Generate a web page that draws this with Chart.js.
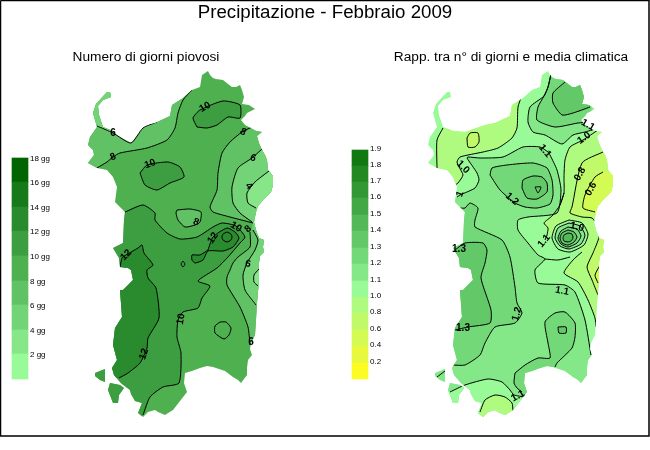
<!DOCTYPE html>
<html>
<head>
<meta charset="utf-8">
<title>Precipitazione - Febbraio 2009</title>
<script src="https://cdn.jsdelivr.net/npm/chart.js@4"></script>
<style>
  html, body { margin: 0; padding: 0; background: #fff; }
  canvas { display: block; }
</style>
</head>
<body>
<canvas id="map" width="650" height="450"></canvas>
<script>
// colour scales
const daysLegendEdges = [158, 182, 207, 231, 256, 281, 305, 330, 354, 379];
const daysLegendColors = ['#006400', '#167a1a', '#2a8a2e', '#3c9e40', '#4fb050', '#60c264', '#72d476', '#86e688', '#98fb98'];
const daysLegendLabels = ['18 gg', '16 gg', '14 gg', '12 gg', '10 gg', '8 gg', '6 gg', '4 gg', '2 gg'];
const ratioLegendEdges = [150, 166, 182, 198, 215, 231, 248, 264, 281, 297, 313, 330, 346, 363, 379];
const ratioLegendColors = ['#127812', '#228822', '#329836', '#42a846', '#52b858', '#62c868', '#72d878', '#84e888', '#98fb98', '#aefb80', '#c0fa68', '#d4fa54', '#e8f83c', '#fcfc24'];
const ratioLegendLabels = ['1.9', '1.8', '1.7', '1.6', '1.5', '1.4', '1.3', '1.2', '1.1', '1.0', '0.8', '0.6', '0.4', '0.2'];

// coast, read on the left map; the right map is the same shape moved by 340
const coast = [[208,71],[210,75],[213,78],[216,79],[223,80],[228,84],[232,87],[236,87],[240,85],[242,90],[244,97],[242,104],[249,105],[255,109],[247,113],[245,116],[241,120],[245,125],[249,127],[256,131],[262,132],[257,136],[259,143],[262,150],[265,155],[267,160],[268,170],[273,176],[273,185],[271,192],[263,200],[258,206],[256,212],[254,222],[256,230],[259,238],[264,240],[263,247],[264,252],[260,256],[259,263],[259,280],[257,303],[256,320],[255,335],[251,343],[250,349],[252,355],[248,360],[247,368],[247,375],[241,383],[238,380],[233,377],[225,371],[213,367],[207,366],[200,368],[192,371],[185,373],[184,383],[187,392],[180,401],[173,410],[165,415],[158,412],[155,410],[148,412],[143,417],[138,413],[142,403],[135,401],[131,394],[130,390],[122,384],[120,382],[114,375],[112,368],[117,360],[113,345],[115,328],[122,317],[120,290],[123,290],[133,280],[131,270],[128,268],[120,267],[119,258],[113,248],[123,243],[124,220],[125,212],[115,202],[117,187],[113,177],[107,170],[97,168],[88,163],[94,155],[93,150],[88,145],[90,137],[97,127],[93,113],[96,104],[107,92],[110,92],[111,97],[103,100],[98,106],[99,115],[103,127],[113,131],[125,132],[145,125],[155,123],[170,116],[172,105],[183,98],[192,90],[200,87],[202,75],[208,71]];
const santAntioco = [[110,383],[120,385],[124,388],[119,395],[118,403],[113,403],[108,390],[110,383]];
const sanPietro = [[95,373],[105,369],[105,382],[100,380],[95,376],[95,373]];
const gulfNotch = [[113,133],[131,143],[143,128],[157,122],[150,118],[125,125],[113,133]];

// left map: number of rainy days
const days6West = [[97,126],[113,133],[131,143],[143,128],[157,122]];
const days8West = [[97,168],[107,162],[113,157],[120,153],[147,148],[167,140],[175,128],[178,113],[183,100],[192,90]];
const days8East = [[252,127],[242,132],[230,142],[222,153],[218,173],[217,190],[210,207],[213,212],[230,217],[253,223]];
const days8South = [[250,232],[250,247],[238,257],[233,263],[230,270],[227,277],[227,285],[240,307],[248,327],[250,345]];
const days6East = [[262,149],[252,158],[238,168],[232,187],[233,203],[240,213],[252,222]];
const days6South = [[253,230],[258,240],[255,250],[247,263],[243,275],[245,290],[256,305]];
const days4East = [[269,171],[255,182],[247,193],[248,203],[256,208]];
const days4South = [[259,269],[254,275],[254,282],[258,286]];
const days10Main = [[123,213],[143,205],[155,213],[155,220],[167,233],[180,239],[197,237],[213,227],[222,223],[236,226],[245,237],[240,243],[228,257],[217,268],[198,281],[210,286],[202,298],[198,308],[183,312],[178,320],[177,337],[181,353],[179,383],[163,387],[150,397],[143,415]];
const days10North = [[197,127],[193,118],[200,110],[223,101],[240,105],[240,118],[228,117],[217,125],[207,128],[197,127]];
const days10Center = [[140,173],[147,165],[168,162],[180,167],[184,177],[170,183],[157,190],[145,185],[140,173]];
const days8Oval = [[177,210],[190,209],[201,212],[200,222],[195,225],[185,227],[178,220],[176,213],[177,210]];
const daysSouthOval = [[220,322],[226,322],[231,328],[229,335],[224,339],[215,333],[215,326],[220,322]];
const days12West = [[119,273],[122,258],[126,255],[138,248],[142,245],[144,253],[153,265],[147,270],[148,278],[156,288],[159,318],[148,338],[147,348],[140,363],[128,373],[119,378]];
const days12Blob = [[208,250],[213,237],[227,228],[235,232],[239,238],[233,247],[223,251],[208,251],[203,260],[195,263],[192,260],[192,255],[200,255],[208,250]];
const days14Ring = [[227,232],[231,234],[232,237],[231,240],[227,242],[223,240],[222,237],[223,234],[227,232]];
const daysDiamond = [[183,261],[185,264],[183,267],[181,264],[183,261]];

// right map: ratio to the climate mean
const ratioWest = [[443,128],[437,140],[437,168]];
const ratio10North = [[522,95],[518,107],[517,128],[512,138],[498,148],[483,152],[460,157],[457,162],[459,167],[463,175],[458,183],[455,185]];
const ratio09Spot = [[467,138],[470,133],[478,133],[479,142],[475,147],[468,147],[467,138]];
const ratio11West = [[457,197],[460,195],[475,188],[479,180],[477,173],[467,158],[468,157],[480,158],[503,157],[523,147],[540,147],[548,152],[550,155],[557,170],[561,190],[557,213],[528,217],[518,220],[518,230],[528,243],[538,255],[545,259],[535,270],[538,283],[565,285],[575,292],[585,320],[591,355]];
const ratio12Oval = [[490,175],[492,168],[507,165],[533,163],[547,168],[552,180],[553,195],[550,204],[537,208],[525,207],[515,203],[500,190],[490,175]];
const ratio13Ring = [[522,188],[523,180],[533,176],[542,177],[547,183],[547,192],[537,199],[527,198],[522,188]];
const ratioTriangle = [[535,187],[541,187],[538,193],[535,187]];
const ratio11North = [[551,74],[548,87],[544,96],[530,107],[528,122],[533,132],[545,135],[562,144],[573,135],[585,132],[592,130]];
const ratio12North = [[551,74],[548,87],[544,96],[538,107],[537,120],[555,127],[578,123],[590,122]];
const ratio13North = [[565,82],[553,93],[553,103],[562,115],[573,113],[590,107]];
const ratio10East = [[598,130],[583,140],[570,147],[565,160],[564,177],[564,193],[560,205],[552,216],[544,223],[550,235],[565,245],[582,252],[573,260],[564,273],[578,282],[588,300],[595,318],[596,327]];
const ratioCurl = [[564,193],[560,205],[552,216],[544,223],[548,228],[547,235],[545,240]];
const ratio08East = [[603,152],[582,163],[572,207],[570,213],[582,217],[592,218],[597,225],[599,237],[593,253],[587,267],[592,280],[598,295]];
const ratio06East = [[603,172],[595,177],[585,195],[583,208],[595,212]];
const ratio06South = [[602,262],[595,275],[598,283]];
const ratioRing1 = [[569,220],[582,223],[588,234],[584,245],[570,252],[558,249],[552,238],[556,226],[569,220]];
const ratioRing2 = [[569,223],[580,226],[585,235],[581,244],[569,249],[560,246],[555,238],[558,228],[569,223]];
const ratioRing3 = [[568,227],[577,229],[581,236],[577,243],[568,247],[561,244],[558,238],[561,231],[568,227]];
const ratioRing4 = [[568,230],[574,232],[577,237],[574,242],[568,245],[562,243],[560,238],[562,233],[568,230]];
const ratioRing5 = [[568,233],[572,234],[573,238],[571,241],[568,242],[564,241],[563,238],[564,235],[568,233]];
const ratioBelowRings = [[545,259],[558,260],[570,257]];
const ratio12West = [[460,208],[465,208],[470,203],[478,208],[475,220],[475,227],[502,240],[510,257],[515,287],[517,303],[522,313],[515,323],[495,327],[485,343],[480,355],[465,365],[452,365]];
const ratio13West = [[455,250],[465,243],[483,243],[487,250],[485,263],[481,278],[491,310],[490,323],[468,327],[455,330]];
const ratioSouthZone = [[515,373],[525,365],[538,358],[550,358],[548,343],[545,322],[555,313],[565,312],[575,323],[575,337],[572,348],[557,363],[555,367]];
const ratioSouthEdge = [[515,373],[514,383],[517,388],[522,392]];
const ratioSquare = [[558,327],[566,327],[566,333],[559,333],[558,327]];
const ratio11South = [[450,392],[465,385],[488,379],[502,382],[510,390],[514,395],[525,397]];
const ratio10South = [[480,412],[485,400],[495,395],[505,397],[512,403],[513,411]];
const ratioPietro = [[437,377],[445,371]];

// contour labels: text, x, y, rotation in degrees
const daysContourLabels = [['6',113,133,0],['8',113,157,-20],['10',205,107,-30],['8',243,132,30],['6',253,158,20],['4',249,186,50],['10',150,164,-20],['8',196,222,20],['10',236,227,30],['8',248,229,-40],['12',213,238,-55],['12',126,255,-45],['6',248,264,10],['10',181,319,-80],['12',144,354,-70],['6',251,342,0]];
const ratioContourLabels = [['1.1',588,125,30],['1.0',584,138,-35],['1.1',545,151,50],['1.0',463,167,45],['1',460,194,-70],['1.2',512,199,40],['0.8',580,174,-60],['0.6',591,189,-60],['1.0',577,227,15],['1.1',544,241,-50],['1.3',459,249,0],['1.1',562,291,10],['1.2',517,314,-75],['1.3',463,328,0],['1.1',518,396,-30]];

const datasets = [];

function addArea(points, color, panel) {
    datasets.push({
        data: points.map(p => ({x: p[0], y: p[1]})),
        xAxisID: panel === 'coastRight' ? 'xRight' : 'x',
        clipPanel: panel === 'none' ? null : panel,
        fill: 'shape',
        backgroundColor: color,
        borderWidth: 0,
        borderColor: 'rgba(0,0,0,0)',
        pointRadius: 0,
        tension: panel.startsWith('coast') || panel === 'none' ? 0 : 0.2
    });
}

function addContour(points, panel) {
    datasets.push({
        data: points.map(p => ({x: p[0], y: p[1]})),
        xAxisID: 'x',
        clipPanel: panel,
        fill: false,
        borderColor: '#000',
        borderWidth: 1,
        pointRadius: 0,
        tension: 0.2
    });
}

function addLegend(edges, colors, center) {
    datasets.push({
        type: 'bar',
        data: colors.map((c, i) => ({x: center, y: [edges[i], edges[i + 1]]})),
        xAxisID: 'x',
        backgroundColor: colors,
        borderWidth: 0,
        barThickness: 16,
        grouped: false
    });
}

// left map
[coast, santAntioco, sanPietro].forEach(p => addArea(p, '#4fb050', 'coastLeft'));
addArea(days8West.concat([[192,60],[80,60],[80,168]]), '#60c264', 'left');
addArea([[97,126],[113,133],[113,100],[110,85],[85,85],[80,126]], '#72d476', 'left');
addArea(days8East.concat(days8South, [[290,345],[290,127]]), '#60c264', 'left');
addArea(days6East.concat(days6South, [[290,305],[290,149]]), '#72d476', 'left');
addArea(days4East.concat([[290,208],[290,171]]), '#86e688', 'left');
addArea(days4South.concat([[290,286],[290,269]]), '#86e688', 'left');
addArea(days8Oval, '#60c264', 'left');
addArea(days10Main.concat([[100,430],[85,300],[100,213]]), '#3c9e40', 'left');
addArea(days10North, '#3c9e40', 'left');
addArea(days10Center, '#3c9e40', 'left');
addArea(days12West.concat([[114,378],[108,350],[108,273]]), '#2a8a2e', 'left');
addArea(days12Blob, '#2a8a2e', 'left');
addArea(gulfNotch, '#ffffff', 'none');
[days6West, days8West, days8East, days8South, days6East, days6South, days4East, days4South, days10Main, days10North, days10Center, days8Oval, daysSouthOval, days12West, days12Blob, days14Ring, daysDiamond].forEach(p => addContour(p, 'left'));

// right map
[coast, santAntioco, sanPietro].forEach(p => addArea(p, '#98fb98', 'coastRight'));
addArea(ratio10North.concat([[445,172],[437,168],[437,140],[443,128],[450,110],[515,88]]), '#aefb80', 'right');
addArea(ratio09Spot, '#c0fa68', 'right');
addArea(ratio11North.concat([[592,60]]), '#84e888', 'right');
addArea(ratio12North.concat([[592,60]]), '#72d878', 'right');
addArea(ratio13North.concat([[592,70],[575,70]]), '#62c868', 'right');
addArea(ratio10East.concat([[640,327],[640,130]]), '#aefb80', 'right');
addArea(ratio08East.concat([[640,295],[640,152]]), '#c0fa68', 'right');
addArea(ratio06East.concat([[640,212],[640,172]]), '#d4fa54', 'right');
addArea(ratio06South.concat([[640,283],[640,262]]), '#d4fa54', 'right');
addArea(ratio11West.concat([[596,370],[596,430],[420,430],[420,197]]), '#84e888', 'right');
addArea(ratio12Oval, '#72d878', 'right');
addArea(ratio13Ring, '#62c868', 'right');
addArea(ratio12West.concat([[430,365],[430,208]]), '#72d878', 'right');
addArea(ratio13West.concat([[420,330],[420,250]]), '#62c868', 'right');
addArea(ratioSouthZone.concat([[555,400],[530,420],[522,392]], ratioSouthEdge.slice().reverse()), '#72d878', 'right');
addArea(ratioSquare, '#62c868', 'right');
addArea(ratio11South.concat([[530,430],[440,430],[440,392]]), '#98fb98', 'right');
addArea(ratio10South.concat([[513,430],[470,430]]), '#aefb80', 'right');
addArea(ratioRing1, '#98fb98', 'right');
addArea(ratioRing2, '#84e888', 'right');
addArea(ratioRing3, '#72d878', 'right');
addArea(ratioRing4, '#62c868', 'right');
addArea(ratioRing5, '#52b858', 'right');
[ratioWest, ratio10North, ratio09Spot, ratio11West, ratio12Oval, ratio13Ring, ratioTriangle, ratio11North, ratio12North, ratio13North, ratio08East, ratio06East, ratio06South, ratioRing1, ratioRing2, ratioRing3, ratioRing4, ratioRing5, ratioBelowRings, ratio12West, ratio13West, ratioSouthZone, ratioSouthEdge, ratioSquare, ratio11South, ratio10South, ratioPietro, ratioCurl].forEach(p => addContour(p, 'right'));
addContour(ratio10East.slice(0, 7), 'right');
addContour(ratio10East.slice(11), 'right');

addLegend(daysLegendEdges, daysLegendColors, 20);
addLegend(ratioLegendEdges, ratioLegendColors, 360);

// outer frame
datasets.push({
    data: [{x: 0.5, y: 0.5}, {x: 649, y: 0.5}, {x: 649, y: 436}, {x: 0.5, y: 436}, {x: 0.5, y: 0.5}],
    xAxisID: 'x',
    fill: false,
    borderColor: '#000',
    borderWidth: 1.5,
    pointRadius: 0
});

// later datasets go on top
datasets.forEach((d, i) => { d.order = datasets.length - i; });

function traceLand(ctx, scale, yScale) {
    [coast, santAntioco, sanPietro].forEach(part => {
        part.forEach((p, i) => {
            const px = scale.getPixelForValue(p[0]);
            const py = yScale.getPixelForValue(p[1]);
            if (i === 0) ctx.moveTo(px, py); else ctx.lineTo(px, py);
        });
        ctx.closePath();
    });
}

// contour zones overshoot the sea, so they are cut to the coast
const coastClip = {
    id: 'coastClip',
    beforeDatasetDraw(chart, args) {
        const panel = chart.data.datasets[args.index].clipPanel;
        if (panel !== 'left' && panel !== 'right') return;
        const ctx = chart.ctx;
        ctx.save();
        ctx.beginPath();
        traceLand(ctx, panel === 'left' ? chart.scales.x : chart.scales.xRight, chart.scales.y);
        ctx.clip();
    },
    afterDatasetDraw(chart, args) {
        const panel = chart.data.datasets[args.index].clipPanel;
        if (panel === 'left' || panel === 'right') chart.ctx.restore();
    }
};

const textLayer = {
    id: 'textLayer',
    afterDatasetsDraw(chart) {
        const ctx = chart.ctx;
        const xs = chart.scales.x;
        const ys = chart.scales.y;
        ctx.save();
        ctx.fillStyle = '#000';
        ctx.textBaseline = 'middle';

        ctx.textAlign = 'center';
        ctx.font = '18.7px "Liberation Sans"';
        ctx.fillText('Precipitazione - Febbraio 2009', xs.getPixelForValue(325), ys.getPixelForValue(13));
        ctx.font = '13.7px "Liberation Sans"';
        ctx.fillText('Numero di giorni piovosi', xs.getPixelForValue(146), ys.getPixelForValue(57));
        ctx.fillText('Rapp. tra n\u00b0 di giorni e media climatica', xs.getPixelForValue(511), ys.getPixelForValue(57));

        ctx.textAlign = 'left';
        ctx.font = '8px "Liberation Sans"';
        daysLegendLabels.forEach((t, i) => ctx.fillText(t, xs.getPixelForValue(30), ys.getPixelForValue(daysLegendEdges[i] + 1)));
        ratioLegendLabels.forEach((t, i) => ctx.fillText(t, xs.getPixelForValue(370), ys.getPixelForValue(ratioLegendEdges[i] - 1)));

        ctx.textAlign = 'center';
        ctx.font = 'bold 10px "Liberation Sans"';
        daysContourLabels.concat(ratioContourLabels).forEach(l => {
            ctx.save();
            ctx.translate(xs.getPixelForValue(l[1]), ys.getPixelForValue(l[2]));
            ctx.rotate(l[3] * Math.PI / 180);
            ctx.fillText(l[0], 0, 0);
            ctx.restore();
        });
        ctx.restore();
    }
};

// the filler has to run after the clip is set
const filler = Chart.registry.getPlugin('filler');
Chart.unregister(filler);
Chart.register(coastClip);
Chart.register(filler);

new Chart(document.getElementById('map'), {
    type: 'line',
    data: {datasets},
    plugins: [textLayer],
    options: {
        responsive: false,
        animation: false,
        devicePixelRatio: 1,
        parsing: {xAxisKey: 'x', yAxisKey: 'y'},
        layout: {padding: 0},
        plugins: {
            legend: {display: false},
            title: {display: false},
            tooltip: {enabled: false}
        },
        scales: {
            x: {type: 'linear', min: 0, max: 650, offset: false, display: false},
            xRight: {type: 'linear', axis: 'x', min: -340, max: 310, offset: false, display: false},
            y: {type: 'linear', min: 0, max: 450, reverse: true, display: false}
        }
    }
});
</script>
</body>
</html>
